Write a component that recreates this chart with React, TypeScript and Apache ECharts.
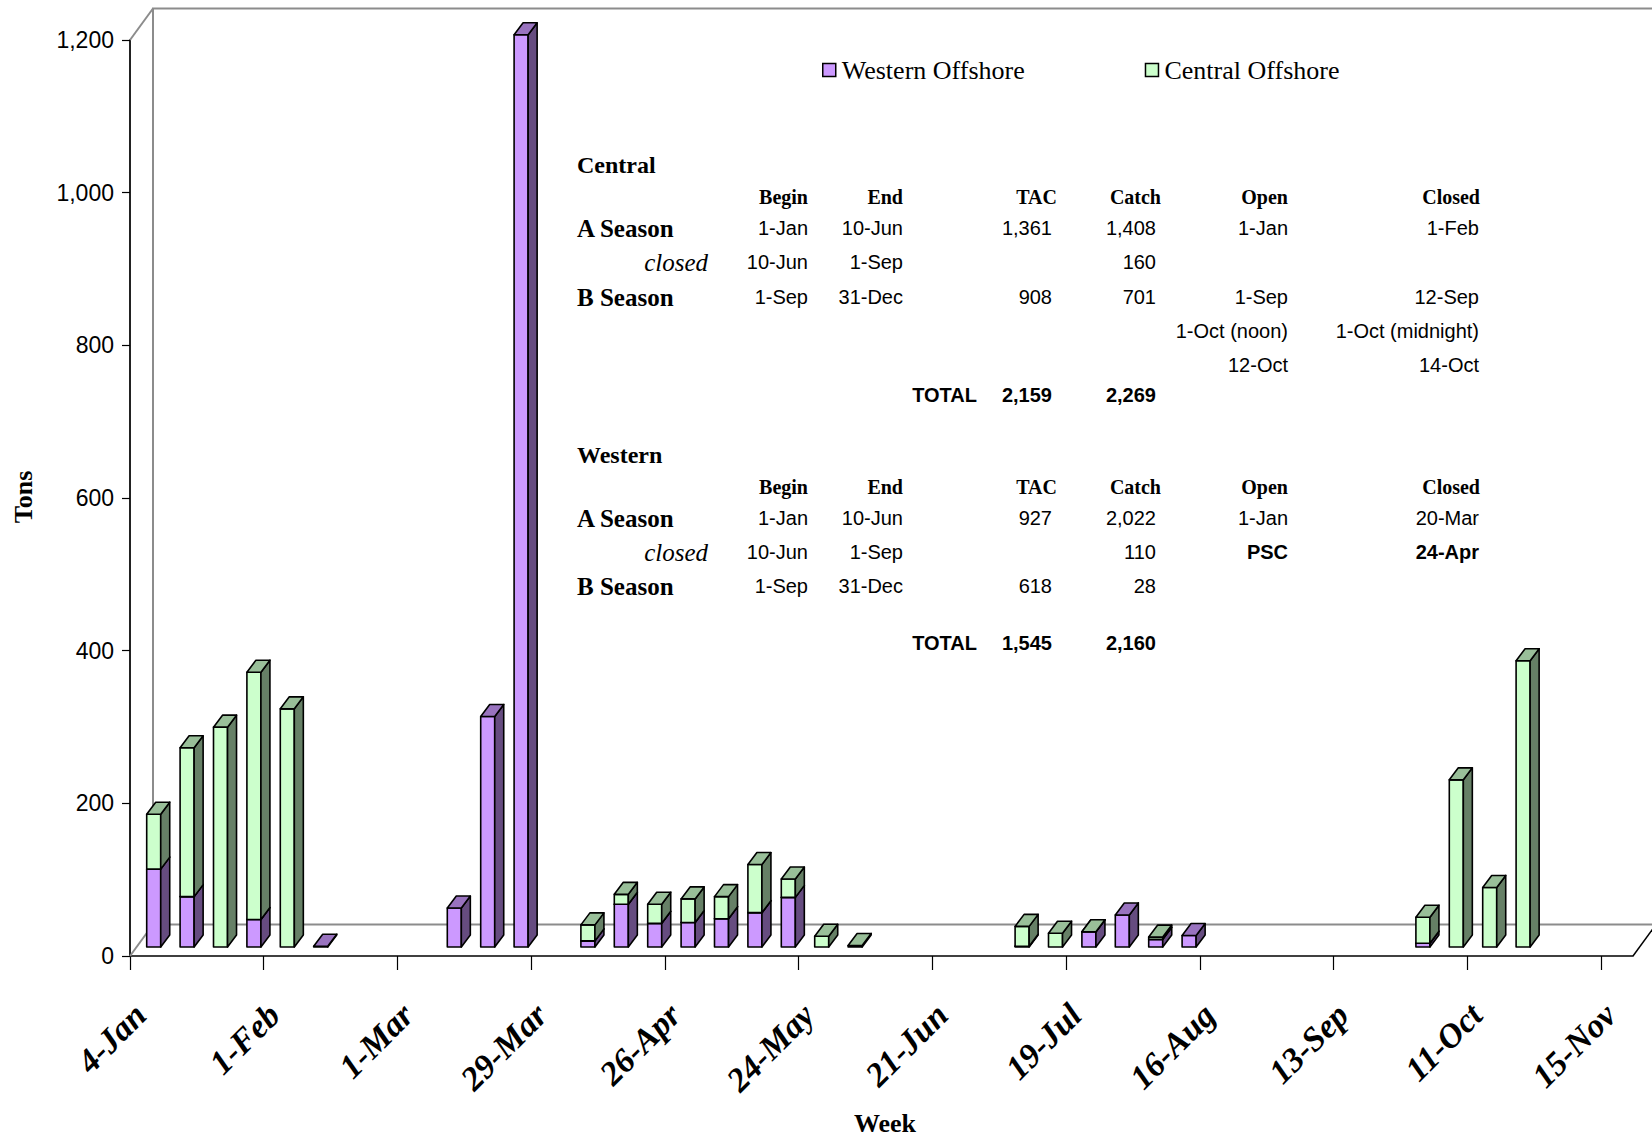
import React, { useEffect, useRef } from "react";
import * as echarts from "echarts";

// ---------- data ----------
const weeks = [
  "4-Jan", "11-Jan", "18-Jan", "25-Jan", "1-Feb", "8-Feb", "15-Feb", "22-Feb",
  "1-Mar", "8-Mar", "15-Mar", "22-Mar", "29-Mar", "5-Apr", "12-Apr", "19-Apr",
  "26-Apr", "3-May", "10-May", "17-May", "24-May", "31-May", "7-Jun", "14-Jun",
  "21-Jun", "28-Jun", "5-Jul", "12-Jul", "19-Jul", "26-Jul", "2-Aug", "9-Aug",
  "16-Aug", "23-Aug", "30-Aug", "6-Sep", "13-Sep", "20-Sep", "27-Sep", "4-Oct",
  "11-Oct", "18-Oct", "25-Oct", "1-Nov", "15-Nov",
];

const westernOffshore: (number | null)[] = [
  102, 66, null, 36, null, 1, null, null,
  null, 51, 302, 1195, null, 8, 56, 31,
  32, 37, 45, 65, null, null, null, null,
  null, null, 1, null, 20, 42, 10, 15,
  null, null, null, null, null, null, 5, null,
  null, null, null, null, null,
];

const centralOffshore: (number | null)[] = [
  72, 195, 288, 324, 312, null, null, null,
  null, null, null, null, null, 21, 13, 25,
  31, 29, 63, 24, 14, 2, null, null,
  null, null, 26, 18, 0, null, 3, null,
  null, null, null, null, null, null, 34, 219,
  78, 375, null, null, null,
];

const yTicks = [0, 200, 400, 600, 800, 1000, 1200];

const seriesNames = ["Western Offshore", "Central Offshore"];

const tableHeaders = ["Begin", "End", "TAC", "Catch", "Open", "Closed"];
const centralRows = [
  ["A Season", "1-Jan", "10-Jun", "1,361", "1,408", "1-Jan", "1-Feb"],
  ["closed", "10-Jun", "1-Sep", "", "160", "", ""],
  ["B Season", "1-Sep", "31-Dec", "908", "701", "1-Sep", "12-Sep"],
  ["", "", "", "", "", "1-Oct (noon)", "1-Oct (midnight)"],
  ["", "", "", "", "", "12-Oct", "14-Oct"],
];
const centralTotal = ["2,159", "2,269"];
const westernRows = [
  ["A Season", "1-Jan", "10-Jun", "927", "2,022", "1-Jan", "20-Mar"],
  ["closed", "10-Jun", "1-Sep", "", "110", "PSC", "24-Apr"],
  ["B Season", "1-Sep", "31-Dec", "618", "28", "", ""],
];
const westernTotal = ["1,545", "2,160"];
const boldCells = ["PSC", "24-Apr"];

// ---------- styles ----------
const W_COL = { front: "#CC99FF", side: "#664C80", top: "#9973BF" };
const C_COL = { front: "#CCFFCC", side: "#668066", top: "#99BF99" };
const SERIF = '"Liberation Serif", "Times New Roman", serif';
const SANS = '"Liberation Sans", Arial, sans-serif';

const FRONT_OY = -9;
const DEPTH_X = 9;
const DEPTH_Y = -12;
const WALL_DX = 23;
const WALL_DY = -31.5;

function makeBarRender(colors: { front: string; side: string; top: string }) {
  return (params: any, api: any) => {
    const k = api.value(0);
    const base = api.value(1);
    const val = api.value(2);
    const bw = api.size([1, 0])[0];
    const faceW = bw * 0.42;
    const p0 = api.coord([k, base]);
    const p1 = api.coord([k, base + val]);
    const x0 = p0[0];
    const x1 = x0 + faceW;
    const yb = p0[1] + FRONT_OY;
    const yt = p1[1] + FRONT_OY;
    const st = { stroke: "#000", lineWidth: 1.6, lineJoin: "round" };
    return {
      type: "group",
      children: [
        {
          type: "polygon",
          shape: { points: [[x0, yt], [x1, yt], [x1, yb], [x0, yb]] },
          style: { fill: colors.front, ...st },
        },
        {
          type: "polygon",
          shape: { points: [[x1, yt], [x1 + DEPTH_X, yt + DEPTH_Y], [x1 + DEPTH_X, yb + DEPTH_Y], [x1, yb]] },
          style: { fill: colors.side, ...st },
        },
        {
          type: "polygon",
          shape: { points: [[x0, yt], [x1, yt], [x1 + DEPTH_X, yt + DEPTH_Y], [x0 + DEPTH_X, yt + DEPTH_Y]] },
          style: { fill: colors.top, ...st },
        },
      ],
    };
  };
}

function wallsRender(params: any, api: any) {
  const bw = api.size([1, 0])[0];
  const yMax = yTicks[yTicks.length - 1];
  const pA = api.coord([0, 0]);
  const pB = api.coord([weeks.length - 1, 0]);
  const pT = api.coord([0, yMax]);
  const left = pA[0] - bw / 2;
  const right = pB[0] + bw / 2;
  const yb = pA[1];
  const yt = pT[1];
  const st = { stroke: "#8c8c8c", lineWidth: 2, fill: null };
  const line = (pts: number[][]) => ({ type: "polyline", shape: { points: pts }, style: st });
  return {
    type: "group",
    children: [
      line([[left + WALL_DX, yb + WALL_DY], [left + WALL_DX, yt + WALL_DY], [right + WALL_DX + 40, yt + WALL_DY]]),
      line([[left + WALL_DX, yb + WALL_DY], [right + WALL_DX, yb + WALL_DY]]),
      line([[left, yt], [left + WALL_DX, yt + WALL_DY]]),
      line([[left, yb], [left + WALL_DX, yb + WALL_DY]]),
      { type: "polyline", shape: { points: [[right, yb], [right + WALL_DX, yb + WALL_DY]] }, style: { stroke: "#000", lineWidth: 1.5, fill: null } },
    ],
  };
}

function txt(x: number, y: number, text: string, font: string, align = "right", extra: any = {}) {
  return {
    type: "text",
    x,
    y,
    silent: true,
    ...extra,
    style: {
      text,
      font,
      fill: "#000",
      align,
      textAlign: align,
      verticalAlign: "middle",
      textVerticalAlign: "middle",
    },
  };
}

export default function App() {
  const ref = useRef<HTMLDivElement>(null);

  useEffect(() => {
    if (!ref.current) return;
    const chart = echarts.init(ref.current, null, { renderer: "svg" });

    const wData: number[][] = [];
    const cData: number[][] = [];
    weeks.forEach((_, i) => {
      const w = westernOffshore[i];
      const c = centralOffshore[i];
      if (w != null) wData.push([i, 0, w]);
      if (c != null) cData.push([i, w ?? 0, c]);
    });

    // table graphics
    const colRight = [808, 903, 1052, 1156, 1288, 1479];
    const headRight = [808, 903, 1057, 1161, 1288, 1480];
    const labelLeft = 577;
    const closedRight = 708;
    const valFont = `20px ${SANS}`;
    const valBold = `bold 20px ${SANS}`;
    const headFont = `bold 20px ${SERIF}`;
    const secFont = `bold 24px ${SERIF}`;
    const rowFont = `bold 25px ${SERIF}`;
    const italFont = `italic 25px ${SERIF}`;

    const graphics: any[] = [];
    const buildTable = (title: string, titleY: number, headY: number, rows: string[][], rowYs: number[], totals: string[], totalY: number) => {
      graphics.push(txt(labelLeft, titleY, title, secFont, "left"));
      tableHeaders.forEach((h, i) => graphics.push(txt(headRight[i], headY, h, headFont)));
      rows.forEach((r, ri) => {
        const y = rowYs[ri];
        if (r[0] === "closed") graphics.push(txt(closedRight, y, r[0], italFont));
        else if (r[0]) graphics.push(txt(labelLeft, y, r[0], rowFont, "left"));
        for (let c = 1; c < r.length; c++) {
          if (!r[c]) continue;
          const bold = boldCells.includes(r[c]) && title === "Western";
          graphics.push(txt(colRight[c - 1], y, r[c], bold ? valBold : valFont));
        }
      });
      graphics.push(txt(977, totalY, "TOTAL", valBold));
      graphics.push(txt(colRight[2], totalY, totals[0], valBold));
      graphics.push(txt(colRight[3], totalY, totals[1], valBold));
    };
    buildTable("Central", 165, 197, centralRows, [228, 262, 297, 331, 365], centralTotal, 395);
    buildTable("Western", 455, 487, westernRows, [518, 552, 586], westernTotal, 643);

    graphics.push(txt(23, 497, "Tons", `bold 26px ${SERIF}`, "center", { rotation: Math.PI / 2 }));
    graphics.push(txt(885, 1123, "Week", `bold 26px ${SERIF}`, "center"));

    chart.setOption({
      animation: false,
      backgroundColor: "#ffffff",
      grid: [
        { left: 130, right: 19, top: 40, bottom: 181 },
        { left: 130, width: 1471, top: 40, bottom: 181 },
      ],
      legend: {
        data: [
          { name: seriesNames[0], itemStyle: { color: W_COL.front, borderColor: "#000", borderWidth: 1.5 } },
          { name: seriesNames[1], itemStyle: { color: C_COL.front, borderColor: "#000", borderWidth: 1.5 } },
        ],
        icon: "rect",
        itemWidth: 13,
        itemHeight: 13,
        itemGap: 120,
        left: 817,
        top: 52,
        selectedMode: false,
        textStyle: { fontFamily: SERIF, fontSize: 26, color: "#000", padding: [0, 0, 0, 1] },
      },
      xAxis: [
        {
          type: "category",
          gridIndex: 0,
          data: weeks,
          boundaryGap: true,
          axisLine: { show: true, lineStyle: { color: "#000", width: 1.5 } },
          axisTick: { show: false },
          axisLabel: {
            interval: 3,
            rotate: 45,
            margin: 47,
            padding: [0, 9, 0, 0],
            fontFamily: SERIF,
            fontWeight: "bold",
            fontStyle: "italic",
            fontSize: 34,
            color: "#000",
          },
          splitLine: { show: false },
        },
        {
          type: "value",
          gridIndex: 1,
          min: 0,
          max: weeks.length - 1,
          interval: 4,
          axisLine: { show: false },
          axisTick: { show: true, length: 14, lineStyle: { color: "#000", width: 1.2 } },
          axisLabel: { show: false },
          splitLine: { show: false },
        },
      ],
      yAxis: [
        {
          type: "value",
          gridIndex: 0,
          min: yTicks[0],
          max: yTicks[yTicks.length - 1],
          interval: 200,
          axisLine: { show: true, lineStyle: { color: "#222", width: 2 } },
          axisTick: { show: true, length: 8, lineStyle: { color: "#000", width: 1.2 } },
          axisLabel: {
            margin: 16,
            fontFamily: SANS,
            fontSize: 23,
            color: "#000",
            formatter: (v: number) => v.toLocaleString("en-US"),
          },
          splitLine: { show: false },
        },
        { type: "value", gridIndex: 1, show: false, min: 0, max: 1200 },
      ],
      series: [
        {
          type: "custom",
          name: "walls",
          xAxisIndex: 0,
          yAxisIndex: 0,
          renderItem: wallsRender,
          data: [[0, 0]],
          encode: { x: 0, y: 1 },
          silent: true,
          z: 1,
        },
        {
          type: "custom",
          name: seriesNames[0],
          xAxisIndex: 0,
          yAxisIndex: 0,
          renderItem: makeBarRender(W_COL),
          data: wData,
          encode: { x: 0, y: 2 },
          itemStyle: { color: W_COL.front },
          z: 3,
        },
        {
          type: "custom",
          name: seriesNames[1],
          xAxisIndex: 0,
          yAxisIndex: 0,
          renderItem: makeBarRender(C_COL),
          data: cData,
          encode: { x: 0, y: 2 },
          itemStyle: { color: C_COL.front },
          z: 4,
        },
      ],
      graphic: graphics,
    });

    return () => chart.dispose();
  }, []);

  return (
    <div
      ref={ref}
      style={{ position: "fixed", left: 0, top: 0, width: 1652, height: 1137, background: "#fff" }}
    />
  );
}
